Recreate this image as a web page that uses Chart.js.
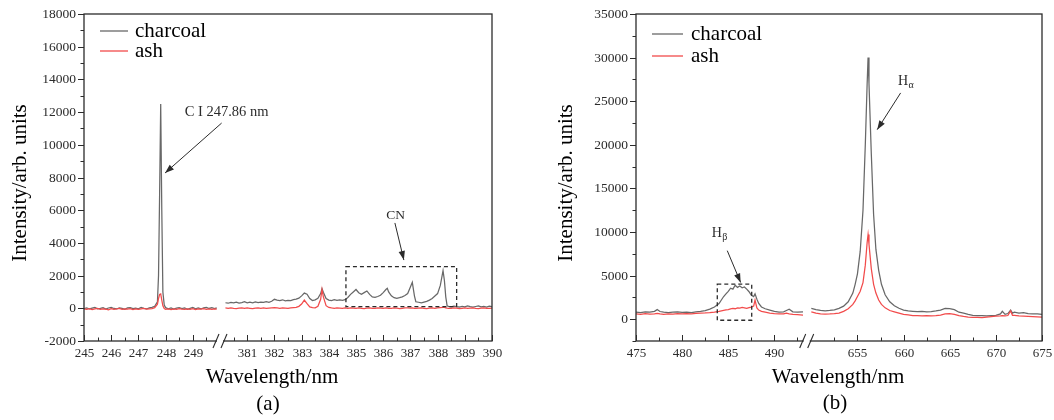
<!DOCTYPE html>
<html>
<head>
<meta charset="utf-8">
<title>Charcoal vs ash spectra</title>
<script src="https://cdn.jsdelivr.net/npm/chart.js@4.4.1/dist/chart.umd.min.js"></script>
<style>
    body { margin: 0; background: #fff; width: 1054px; height: 420px; overflow: hidden; position: relative; }
    .panel { position: absolute; top: 0; width: 527px; height: 420px; }
</style>
</head>
<body>
<div class="panel" style="left:0"><canvas id="chartA" width="527" height="420"></canvas></div>
<div class="panel" style="left:527px"><canvas id="chartB" width="527" height="420"></canvas></div>
<script>
// ---- panel (a): 245-250 nm and 380-390 nm ----
const aLeftWl = [
    245.0, 245.1, 245.2, 245.3, 245.4, 245.5, 245.6, 245.7, 245.8, 245.9,
    246.0, 246.1, 246.2, 246.3, 246.4, 246.5, 246.6, 246.7, 246.8, 246.9,
    247.0, 247.1, 247.2, 247.3, 247.4, 247.5, 247.6, 247.7, 247.74, 247.78,
    247.82, 247.86, 247.9, 247.95, 248.0, 248.1, 248.2, 248.3, 248.4, 248.5,
    248.6, 248.7, 248.8, 248.9, 249.0, 249.1, 249.2, 249.3, 249.4, 249.5,
    249.6, 249.7, 249.8, 249.88
];
const aLeftCharcoal = [
    -20, 30, -40, 10, 50, -30, 0, 40, -50, 20,
    60, -10, -40, 30, 0, -60, 20, 40, -20, 10,
    -30, 50, 0, -40, 30, 60, 120, 400, 2000, 7000,
    12500, 6000, 1000, 200, 40, -30, 20, -50, 10, 40,
    -20, 30, -60, 0, 50, -30, 20, -40, 30, 60,
    -10, 40, -20, 30
];
const aLeftAsh = [
    -30, -60, -20, -80, -40, -10, -70, -30, -50, -90,
    -20, -60, -40, -10, -70, -30, -50, -20, -80, -40,
    -60, -30, -10, -50, -30, -20, 40, 250, 600, 850,
    880, 500, 150, -20, -60, -40, -80, -30, -60, -20,
    -50, -70, -30, -60, -20, -80, -40, -50, -20, -60,
    -40, -70, -30, -50
];
const aRightWl = [
    380.2, 380.3, 380.4, 380.5, 380.6, 380.7, 380.8, 380.9, 381.0, 381.1,
    381.2, 381.3, 381.4, 381.5, 381.6, 381.7, 381.8, 381.9, 382.0, 382.1,
    382.2, 382.3, 382.4, 382.5, 382.6, 382.7, 382.8, 382.9, 383.0, 383.1,
    383.2, 383.3, 383.4, 383.5, 383.6, 383.7, 383.75, 383.8, 383.9, 384.0,
    384.1, 384.2, 384.3, 384.4, 384.5, 384.6, 384.7, 384.8, 384.9, 385.0,
    385.1, 385.2, 385.3, 385.4, 385.5, 385.6, 385.7, 385.8, 385.9, 386.0,
    386.1, 386.15, 386.2, 386.3, 386.4, 386.5, 386.6, 386.7, 386.8, 386.9,
    387.0, 387.07, 387.15, 387.2, 387.3, 387.4, 387.5, 387.6, 387.7, 387.8,
    387.9, 388.0, 388.1, 388.2, 388.25, 388.3, 388.35, 388.4, 388.5, 388.6,
    388.7, 388.8, 388.9, 389.0, 389.1, 389.2, 389.3, 389.4, 389.5, 389.6,
    389.7, 389.8, 389.9, 390.0
];
const aRightCharcoal = [
    340, 310, 360, 330, 380, 320, 350, 400, 340, 370,
    330, 390, 350, 380, 360, 410, 370, 430, 550, 500,
    470, 520, 450, 490, 470, 530, 560, 620, 760, 930,
    860, 600, 470, 520, 610, 900, 1200, 980, 600, 500,
    470, 530, 480, 510, 490, 530, 660, 850, 1000, 1150,
    950, 860, 960, 1060, 850, 700, 670, 720, 800, 960,
    1150, 1220, 1000, 760, 650, 610, 650, 700, 780, 900,
    1300, 1590, 750, 400, 370, 340, 380, 420, 500, 600,
    750, 900, 1400, 2300, 1700, 700, 150, 120, 90, 130,
    100, 80, 120, 90, 140, 100, 70, 110, 150, 90,
    120, 80, 130, 100
];
const aRightAsh = [
    20, -10, 30, 0, -20, 10, 30, -10, 20, 0,
    -20, 10, 30, 0, 20, -10, 10, 30, 40, 20,
    0, 30, 10, -10, 20, 40, 60, 120, 260, 500,
    280, 90, 40, 30, 120, 550, 1150, 700, 160, 50,
    20, 0, 30, 10, -10, 20, 0, 30, 10, -10,
    20, 0, -20, 10, 30, 0, -10, 20, 10, 0,
    20, 10, -10, 0, 20, 10, -20, 0, 20, 30,
    10, 20, 0, -10, 10, 20, 0, -20, 10, 30,
    0, 20, 40, 60, 50, 30, 10, 0, -10, 20,
    10, -20, 0, 20, -10, 10, 30, 0, -20, 10,
    20, 0, -10, 10
];
const aXTicks = [245, 246, 247, 248, 249, 381, 382, 383, 384, 385, 386, 387, 388, 389, 390];
const aXMinor = [245.5, 246.5, 247.5, 248.5, 249.5, 380.5, 381.5, 382.5, 383.5, 384.5, 385.5, 386.5, 387.5, 388.5, 389.5];
const aYTicks = [-2000, 0, 2000, 4000, 6000, 8000, 10000, 12000, 14000, 16000, 18000];
const aYMinor = [-1000, 1000, 3000, 5000, 7000, 9000, 11000, 13000, 15000, 17000];

// ---- panel (b): 475-493 nm and 650-675 nm ----
const bLeftWl = [
    475.0, 475.5, 476.0, 476.5, 477.0, 477.3, 477.6, 478.0, 478.5, 479.0,
    479.5, 480.0, 480.5, 481.0, 481.5, 482.0, 482.5, 483.0, 483.5, 484.0,
    484.25, 484.5, 484.75, 485.0, 485.25, 485.5, 485.75, 486.0, 486.25, 486.5,
    486.75, 487.0, 487.25, 487.5, 487.75, 487.9, 488.1, 488.3, 488.6, 489.0,
    489.5, 490.0, 490.5, 491.0, 491.3, 491.6, 492.0, 492.5, 493.1
];
const bLeftCharcoal = [
    800, 750, 850, 800, 900, 1100, 880, 820, 760, 800,
    850, 780, 820, 760, 850, 900, 980, 1150, 1400, 1800,
    2200, 2600, 2900, 3200, 3550, 3450, 3900, 3650, 3800, 3600,
    3700, 3450, 3150, 2750, 2600, 2900, 2300, 1800, 1400, 1200,
    1050, 900, 820, 850, 1000, 1150, 850, 800, 850
];
const bLeftAsh = [
    600, 560, 640, 580, 620, 680, 600, 560, 620, 580,
    650, 600, 640, 620, 680, 700, 720, 760, 820, 900,
    960, 1020, 1080, 1100, 1180, 1240, 1200, 1300, 1280, 1350,
    1300, 1250, 1320, 1380, 1500, 2200, 1300, 1050, 900, 820,
    700, 650, 620, 600, 700, 620, 560, 520, 480
];
const bRightWl = [
    650.0, 650.5, 651.0, 651.5, 652.0, 652.5, 653.0, 653.5, 654.0, 654.5,
    654.75, 655.0, 655.3, 655.6, 655.85, 656.05, 656.15, 656.25, 656.5, 656.75,
    657.0, 657.3, 657.6, 658.0, 658.5, 659.0, 659.5, 660.0, 660.5, 661.0,
    661.5, 662.0, 662.5, 663.0, 663.5, 664.0, 664.5, 665.0, 665.5, 666.0,
    666.5, 667.0, 667.5, 668.0, 668.5, 669.0, 669.5, 670.0, 670.5, 670.7,
    671.0, 671.3, 671.6, 671.8, 672.0, 672.5, 673.0, 673.5, 674.0, 674.5,
    675.0
];
const bRightCharcoal = [
    1250, 1100, 1000, 960, 1000, 1080, 1250, 1500, 2000, 3000,
    4000, 5200, 7800, 12500, 20000, 27000, 30000, 27000, 19000, 12000,
    8000, 5600, 4000, 2800, 2000, 1550, 1250, 1050, 950, 900,
    860, 900, 840, 880, 950, 1050, 1250, 1200, 1100, 800,
    700, 550, 450, 400, 420, 380, 420, 450, 600, 900,
    550, 650, 1050, 700, 800, 700, 750, 650, 600, 620,
    550
];
const bRightAsh = [
    850, 700, 620, 580, 600, 640, 700, 900, 1200, 1700,
    2100, 2600, 3200, 4200, 6200, 8800, 9700, 8600, 5800, 4000,
    3000, 2200, 1700, 1300, 1000, 850, 700, 550, 500, 420,
    400, 380, 420, 380, 420, 480, 600, 650, 550, 420,
    320, 250, 200, 220, 180, 250, 300, 350, 380, 420,
    380, 420, 950, 450, 450, 380, 350, 320, 300, 280,
    250
];
const bXTicks = [475, 480, 485, 490, 655, 660, 665, 670, 675];
const bXMinor = [477.5, 482.5, 487.5, 492.5, 652.5, 657.5, 662.5, 667.5, 672.5];
const bYTicks = [0, 5000, 10000, 15000, 20000, 25000, 30000, 35000];
const bYMinor = [-2500, 2500, 7500, 12500, 17500, 22500, 27500, 32500];

const seriesNames = ['charcoal', 'ash'];
const seriesColors = ['#686868', '#f24b4b'];

const SERIF = "'Liberation Serif', 'Times New Roman', serif";
const INK = '#2b2b2b';

// broken axis: the high segment is shifted left so it sits right after the break
function makeAxis(breakLo, breakHi, shift) {
    return wl => (wl >= breakHi ? wl - shift : wl);
}

function seg(wl, vals, toAxis) {
    return wl.map((w, i) => ({ x: toAxis(w), y: vals[i] }));
}

function line(ctx, x1, y1, x2, y2) {
    ctx.beginPath(); ctx.moveTo(x1, y1); ctx.lineTo(x2, y2); ctx.stroke();
}

function arrow(ctx, x1, y1, x2, y2) {
    line(ctx, x1, y1, x2, y2);
    const ang = Math.atan2(y2 - y1, x2 - x1), L = 9, W = 3.2;
    ctx.beginPath();
    ctx.moveTo(x2, y2);
    ctx.lineTo(x2 - L * Math.cos(ang) + W * Math.sin(ang), y2 - L * Math.sin(ang) - W * Math.cos(ang));
    ctx.lineTo(x2 - L * Math.cos(ang) - W * Math.sin(ang), y2 - L * Math.sin(ang) + W * Math.cos(ang));
    ctx.closePath(); ctx.fill();
}

function framePlugin(p) {
    return {
        id: 'frame_' + p.name,
        afterDatasetsDraw(chart) {
            const { ctx, chartArea: a, scales: { x, y } } = chart;
            const X = wl => x.getPixelForValue(p.toAxis(wl));
            const Y = v => y.getPixelForValue(v);
            ctx.save();
            ctx.strokeStyle = INK; ctx.fillStyle = INK;

            // frame
            ctx.lineWidth = 1.3;
            ctx.strokeRect(a.left, a.top, a.right - a.left, a.bottom - a.top);

            // y ticks, outward
            ctx.lineWidth = 1;
            ctx.font = '13.5px ' + SERIF;
            ctx.textAlign = 'right'; ctx.textBaseline = 'middle';
            p.yTicks.forEach(v => {
                const yy = Math.round(Y(v)) + 0.5;
                line(ctx, a.left - 6, yy, a.left, yy);
                ctx.fillText(String(v), a.left - 8, yy);
            });
            p.yMinor.forEach(v => { const yy = Math.round(Y(v)) + 0.5; line(ctx, a.left - 3.5, yy, a.left, yy); });

            // x ticks, inward
            ctx.font = '13px ' + SERIF;
            ctx.textAlign = 'center'; ctx.textBaseline = 'top';
            p.xTicks.forEach(v => {
                const xx = Math.round(X(v)) + 0.5;
                line(ctx, xx, a.bottom, xx, a.bottom - 6);
                ctx.fillText(String(v), xx, a.bottom + 6);
            });
            p.xMinor.forEach(v => { const xx = Math.round(X(v)) + 0.5; line(ctx, xx, a.bottom, xx, a.bottom - 3.5); });

            // axis break mark
            const bx = x.getPixelForValue(p.breakAt);
            ctx.fillStyle = '#fff';
            ctx.fillRect(bx - 3, a.bottom - 2, 6, 4);
            ctx.fillStyle = INK;
            ctx.lineWidth = 1.1;
            line(ctx, bx - 7, a.bottom + 7, bx - 1, a.bottom - 7);
            line(ctx, bx + 1, a.bottom + 7, bx + 7, a.bottom - 7);

            // axis titles
            ctx.fillStyle = '#000';
            ctx.font = '21px ' + SERIF;
            ctx.textAlign = 'center'; ctx.textBaseline = 'middle';
            ctx.fillText('Wavelength/nm', p.xTitle[0], p.xTitle[1]);
            ctx.fillText(p.caption, p.capPos[0], p.capPos[1]);
            ctx.save();
            ctx.translate(p.yTitle[0], p.yTitle[1]);
            ctx.rotate(-Math.PI / 2);
            ctx.fillText('Intensity/arb. units', 0, 0);
            ctx.restore();

            // legend
            ctx.textAlign = 'left';
            seriesNames.forEach((n, i) => {
                const ly = a.top + p.legend.y0 + i * p.legend.dy;
                ctx.strokeStyle = seriesColors[i]; ctx.lineWidth = 1.3;
                line(ctx, a.left + p.legend.x0, ly, a.left + p.legend.x1, ly);
                ctx.fillStyle = '#000';
                ctx.fillText(n, a.left + p.legend.tx, ly);
            });

            // annotations
            ctx.strokeStyle = INK; ctx.fillStyle = INK; ctx.lineWidth = 1;
            p.notes.forEach(nt => {
                ctx.font = nt.size + 'px ' + SERIF;
                ctx.textAlign = nt.align; ctx.textBaseline = 'middle';
                const tx = X(nt.at[0]), ty = Y(nt.at[1]);
                ctx.fillText(nt.text, tx, ty);
                if (nt.sub) {
                    const w = ctx.measureText(nt.text).width;
                    ctx.font = (nt.size - 4) + 'px ' + SERIF;
                    ctx.textAlign = 'left';
                    ctx.fillText(nt.sub, tx + w + 0.5, ty + 4);
                }
                arrow(ctx, X(nt.from[0]), Y(nt.from[1]), X(nt.to[0]), Y(nt.to[1]));
            });
            p.boxes.forEach(b => {
                ctx.setLineDash([4, 3]); ctx.lineWidth = 1.3;
                const x1 = X(b[0]), x2 = X(b[1]), y1 = Y(b[3]), y2 = Y(b[2]);
                ctx.strokeRect(x1, y1, x2 - x1, y2 - y1);
                ctx.setLineDash([]);
            });
            ctx.restore();
        }
    };
}

function makeChart(id, p, data, xRange, yRange, padding) {
    const datasets = [];
    data.forEach((d, i) => {
        d.forEach(s => datasets.push({
            label: seriesNames[i],
            data: s,
            borderColor: seriesColors[i],
            borderWidth: 1.25,
            pointRadius: 0,
            tension: 0,
            fill: false,
            order: i === 0 ? 2 : 1
        }));
    });
    return new Chart(document.getElementById(id), {
        type: 'line',
        data: { datasets },
        options: {
            responsive: false,
            animation: false,
            devicePixelRatio: 1,
            layout: { padding },
            plugins: { legend: { display: false }, tooltip: { enabled: false } },
            scales: {
                x: { type: 'linear', min: xRange[0], max: xRange[1], display: false },
                y: { type: 'linear', min: yRange[0], max: yRange[1], display: false }
            }
        },
        plugins: [framePlugin(p)]
    });
}

// --- panel (a) ---
const toA = makeAxis(250, 380, 130);
const panelA = {
    name: 'a', toAxis: toA, breakAt: 250,
    xTicks: aXTicks, xMinor: aXMinor, yTicks: aYTicks, yMinor: aYMinor,
    xTitle: [272, 377], yTitle: [20, 183], caption: '(a)', capPos: [268, 404],
    legend: { x0: 16, x1: 44, tx: 51, y0: 17, dy: 20 },
    notes: [
        { text: 'C I 247.86 nm', size: 14.5, align: 'left', at: [248.7, 12000], from: [250.06, 11330], to: [247.98, 8275] },
        { text: 'CN', size: 13.5, align: 'center', at: [386.46, 5700], from: [386.43, 5220], to: [386.76, 2950] }
    ],
    boxes: [[384.63, 388.7, 100, 2550]]
};
makeChart('chartA', panelA,
    [[seg(aLeftWl, aLeftCharcoal, toA), seg(aRightWl, aRightCharcoal, toA)],
     [seg(aLeftWl, aLeftAsh, toA), seg(aRightWl, aRightAsh, toA)]],
    [245, 260], [-2000, 18000], { left: 84, right: 35, top: 14, bottom: 79 });

// --- panel (b) ---
const toB = makeAxis(493.5, 649.5, 156);
const panelB = {
    name: 'b', toAxis: toB, breakAt: 493.5,
    xTicks: bXTicks, xMinor: bXMinor, yTicks: bYTicks, yMinor: bYMinor,
    xTitle: [311, 377], yTitle: [39, 183], caption: '(b)', capPos: [308, 403],
    legend: { x0: 16, x1: 47, tx: 55, y0: 20, dy: 22 },
    notes: [
        { text: 'H', sub: 'β', size: 14, align: 'left', at: [483.2, 9800], from: [484.89, 7860], to: [486.34, 4210] },
        { text: 'H', sub: 'α', size: 14, align: 'left', at: [659.39, 27330], from: [659.68, 25950], to: [657.14, 21740] }
    ],
    boxes: [[483.81, 487.54, -120, 4020]]
};
makeChart('chartB', panelB,
    [[seg(bLeftWl, bLeftCharcoal, toB), seg(bRightWl, bRightCharcoal, toB)],
     [seg(bLeftWl, bLeftAsh, toB), seg(bRightWl, bRightAsh, toB)]],
    [475, 519], [-2500, 35000], { left: 109, right: 12, top: 14, bottom: 79 });
</script>
</body>
</html>
